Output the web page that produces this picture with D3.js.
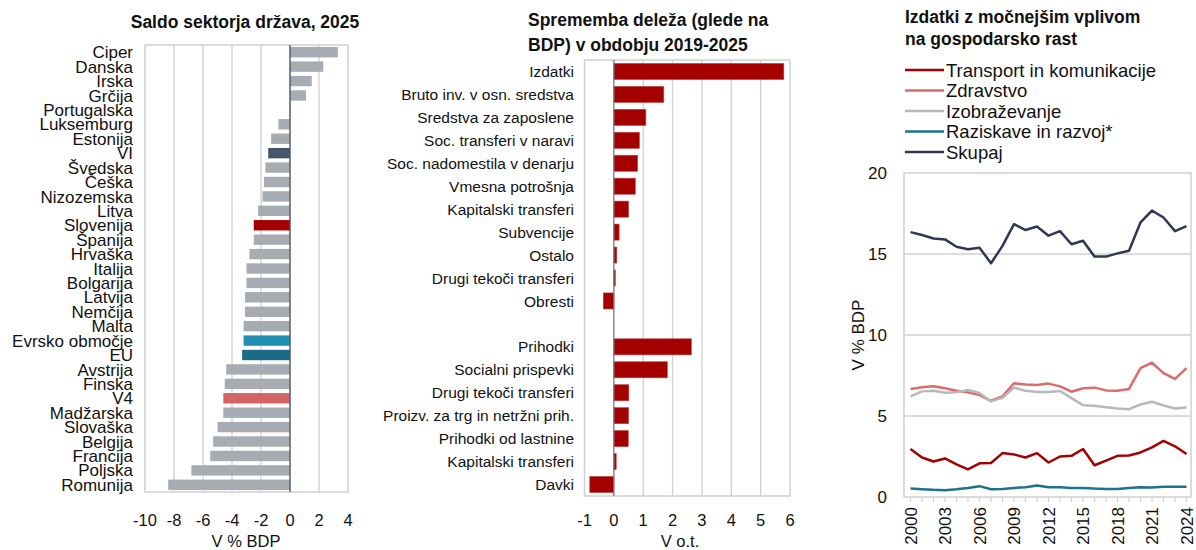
<!DOCTYPE html>
<html>
<head>
<meta charset="utf-8">
<script src="https://cdn.jsdelivr.net/npm/d3@7"></script>
<style>
  body { margin: 0; background: #fff; }
  svg { font-family: "Liberation Sans", Arial, sans-serif; }
  .title { font-weight: bold; font-size: 17.5px; fill: #111; }
</style>
</head>
<body>
<svg id="svg" width="1196" height="550"></svg>
<script>
// ---- //
// Data //
// ---- //

// left: general government balance 2025
const countries = ["Ciper", "Danska", "Irska", "Grčija", "Portugalska", "Luksemburg", "Estonija", "VI",
  "Švedska", "Češka", "Nizozemska", "Litva", "Slovenija", "Španija", "Hrvaška", "Italija", "Bolgarija",
  "Latvija", "Nemčija", "Malta", "Evrsko območje", "EU", "Avstrija", "Finska", "V4", "Madžarska",
  "Slovaška", "Belgija", "Francija", "Poljska", "Romunija"];
const balance = [3.3, 2.3, 1.5, 1.1, 0.0, -0.8, -1.3, -1.5, -1.7, -1.8, -1.9, -2.2, -2.5, -2.5, -2.8,
  -3.0, -3.0, -3.1, -3.1, -3.2, -3.2, -3.3, -4.4, -4.5, -4.6, -4.6, -5.0, -5.3, -5.5, -6.8, -8.4];
const highlight = { "VI": "#44546a", "Slovenija": "#a50000", "Evrsko območje": "#1f8fb3",
  "EU": "#1b6a88", "V4": "#d46464" };
const balanceTicks = [-10, -8, -6, -4, -2, 0, 2, 4];

// middle: change in share of GDP 2019-2025
const items = ["Izdatki", "Bruto inv. v osn. sredstva", "Sredstva za zaposlene", "Soc. transferi v naravi",
  "Soc. nadomestila v denarju", "Vmesna potrošnja", "Kapitalski transferi", "Subvencije", "Ostalo",
  "Drugi tekoči transferi", "Obresti", "", "Prihodki", "Socialni prispevki", "Drugi tekoči transferi",
  "Proizv. za trg in netržni prih.", "Prihodki od lastnine", "Kapitalski transferi", "Davki"];
const change = [5.79, 1.70, 1.09, 0.87, 0.81, 0.73, 0.50, 0.18, 0.10, 0.05, -0.36, null,
  2.64, 1.82, 0.51, 0.50, 0.49, 0.08, -0.82];
const changeTicks = [-1, 0, 1, 2, 3, 4, 5, 6];

// right: growth-enhancing expenditure
const years = d3.range(2000, 2025);
const transport = [2.96, 2.44, 2.19, 2.38, 2.02, 1.71, 2.08, 2.10, 2.71, 2.63, 2.44, 2.71, 2.13, 2.50,
  2.54, 2.96, 1.96, 2.25, 2.54, 2.56, 2.75, 3.06, 3.46, 3.13, 2.65];
const zdravstvo = [6.67, 6.77, 6.83, 6.71, 6.56, 6.46, 6.29, 5.94, 6.21, 7.02, 6.94, 6.92, 7.00, 6.83,
  6.50, 6.71, 6.75, 6.58, 6.56, 6.67, 7.96, 8.29, 7.65, 7.29, 7.96];
const izobrazevanje = [6.21, 6.52, 6.56, 6.44, 6.46, 6.60, 6.42, 5.90, 6.13, 6.75, 6.56, 6.48, 6.48, 6.54,
  6.10, 5.67, 5.63, 5.54, 5.46, 5.42, 5.71, 5.88, 5.65, 5.46, 5.52];
const razvoj = [0.52, 0.48, 0.44, 0.42, 0.48, 0.56, 0.67, 0.48, 0.50, 0.56, 0.60, 0.71, 0.60, 0.60,
  0.56, 0.56, 0.52, 0.50, 0.50, 0.56, 0.60, 0.58, 0.63, 0.63, 0.63];
const skupaj = [16.35, 16.17, 15.96, 15.90, 15.45, 15.29, 15.39, 14.43, 15.50, 16.84, 16.48, 16.70, 16.13,
  16.41, 15.60, 15.82, 14.84, 14.84, 15.04, 15.20, 16.95, 17.68, 17.25, 16.41, 16.72];
const seriesNames = ["Transport in komunikacije", "Zdravstvo", "Izobraževanje", "Raziskave in razvoj*", "Skupaj"];
const seriesValues = [transport, zdravstvo, izobrazevanje, razvoj, skupaj];
const seriesColors = ["#a50000", "#dc6b6b", "#b5b9be", "#1c7390", "#2e3853"];
const yearTicks = [2000, 2003, 2006, 2009, 2012, 2015, 2018, 2021, 2024];
const levelTicks = [0, 5, 10, 15, 20];

const svg = d3.select("#svg");
const gridColor = "#d0d0d0";

// --------------------------- //
// Left chart: horizontal bars //
// --------------------------- //
{
  const x = d3.scaleLinear().domain([-10, 4]).range([145, 348]);
  const y = d3.scaleBand().domain(countries).range([45, 492]).paddingInner(0.28).paddingOuter(0.14);
  const g = svg.append("g");

  g.append("text").attr("class", "title").attr("x", 245).attr("y", 28)
    .attr("text-anchor", "middle").text("Saldo sektorja država, 2025");

  g.selectAll("line.grid").data(balanceTicks.slice(1, -1)).join("line")
    .attr("x1", d => x(d)).attr("x2", d => x(d)).attr("y1", 45).attr("y2", 492)
    .attr("stroke", gridColor).attr("stroke-width", 1.3);
  g.append("rect").attr("x", 145).attr("y", 45).attr("width", 203).attr("height", 447)
    .attr("fill", "none").attr("stroke", gridColor).attr("stroke-width", 1.5);

  g.selectAll("rect.bar").data(countries).join("rect")
    .attr("x", (d, i) => x(Math.min(0, balance[i])))
    .attr("width", (d, i) => Math.abs(x(balance[i]) - x(0)))
    .attr("y", d => y(d)).attr("height", y.bandwidth())
    .attr("fill", d => highlight[d] || "#a7acb2");

  g.append("line").attr("x1", x(0)).attr("x2", x(0)).attr("y1", 45).attr("y2", 492)
    .attr("stroke", "#4a5566").attr("stroke-width", 1.3);

  g.selectAll("text.cat").data(countries).join("text")
    .attr("x", 133).attr("y", d => y(d) + y.bandwidth() / 2).attr("dy", "0.36em")
    .attr("text-anchor", "end").attr("font-size", 17).attr("fill", "#111").text(d => d);

  g.selectAll("text.tick").data(balanceTicks).join("text")
    .attr("x", d => x(d)).attr("y", 526).attr("text-anchor", "middle")
    .attr("font-size", 16.5).attr("fill", "#111").text(d => d);
  g.append("text").attr("x", 246).attr("y", 547).attr("text-anchor", "middle")
    .attr("font-size", 16.5).attr("fill", "#111").text("V % BDP");
}

// ----------------------------- //
// Middle chart: horizontal bars //
// ----------------------------- //
{
  const x = d3.scaleLinear().domain([-1, 6]).range([584.5, 790]);
  const keys = items.map((d, i) => i);
  const y = d3.scaleBand().domain(keys).range([60, 496]).paddingInner(0.3).paddingOuter(0.15);
  const g = svg.append("g");

  g.append("text").attr("class", "title").attr("x", 528).attr("y", 26).text("Sprememba deleža (glede na");
  g.append("text").attr("class", "title").attr("x", 528).attr("y", 51).text("BDP) v obdobju 2019-2025");

  g.selectAll("line.grid").data(changeTicks.slice(2, -1)).join("line")
    .attr("x1", d => x(d)).attr("x2", d => x(d)).attr("y1", 60).attr("y2", 496)
    .attr("stroke", gridColor).attr("stroke-width", 1.3);
  g.append("rect").attr("x", x(-1)).attr("y", 60).attr("width", x(6) - x(-1)).attr("height", 436)
    .attr("fill", "none").attr("stroke", gridColor).attr("stroke-width", 1.5);

  g.selectAll("rect.bar").data(keys.filter(i => change[i] !== null)).join("rect")
    .attr("x", i => x(Math.min(0, change[i])))
    .attr("width", i => Math.abs(x(change[i]) - x(0)))
    .attr("y", i => y(i)).attr("height", y.bandwidth())
    .attr("fill", "#a50000").attr("stroke", "#c04040").attr("stroke-width", 0.6);

  g.append("line").attr("x1", x(0)).attr("x2", x(0)).attr("y1", 60).attr("y2", 496)
    .attr("stroke", "#777").attr("stroke-width", 1.3);

  g.selectAll("text.cat").data(keys).join("text")
    .attr("x", 574).attr("y", i => y(i) + y.bandwidth() / 2).attr("dy", "0.36em")
    .attr("text-anchor", "end").attr("font-size", 15.5).attr("fill", "#111").text(i => items[i]);

  g.selectAll("text.tick").data(changeTicks).join("text")
    .attr("x", d => x(d)).attr("y", 526).attr("text-anchor", "middle")
    .attr("font-size", 16.5).attr("fill", "#111").text(d => d);
  g.append("text").attr("x", 680).attr("y", 547).attr("text-anchor", "middle")
    .attr("font-size", 16.5).attr("fill", "#111").text("V o.t.");
}

// ------------------ //
// Right chart: lines //
// ------------------ //
{
  const x = d3.scaleLinear().domain([2000, 2024]).range([910.5, 1186.5]);
  const y = d3.scaleLinear().domain([0, 20]).range([497, 173]);
  const g = svg.append("g");

  g.append("text").attr("class", "title").attr("x", 905).attr("y", 23).text("Izdatki z močnejšim vplivom");
  g.append("text").attr("class", "title").attr("x", 905).attr("y", 45).text("na gospodarsko rast");

  // legend
  seriesNames.forEach((name, i) => {
    const ly = 70 + i * 20.5;
    g.append("line").attr("x1", 905).attr("x2", 944).attr("y1", ly).attr("y2", ly)
      .attr("stroke", seriesColors[i]).attr("stroke-width", 2.5);
    g.append("text").attr("x", 946).attr("y", ly).attr("dy", "0.36em")
      .attr("font-size", 18.5).attr("fill", "#111").text(name);
  });

  g.selectAll("line.grid").data(levelTicks.slice(1, -1)).join("line")
    .attr("x1", 904).attr("x2", 1191).attr("y1", d => y(d)).attr("y2", d => y(d))
    .attr("stroke", gridColor).attr("stroke-width", 1.3);
  g.append("rect").attr("x", 904).attr("y", y(20)).attr("width", 287).attr("height", y(0) - y(20))
    .attr("fill", "none").attr("stroke", gridColor).attr("stroke-width", 1.5);

  // minor year ticks below axis
  g.selectAll("line.yt").data(years).join("line")
    .attr("x1", d => x(d)).attr("x2", d => x(d)).attr("y1", y(0)).attr("y2", y(0) + 5)
    .attr("stroke", gridColor).attr("stroke-width", 1.2);

  const line = d3.line().x((d, i) => x(years[i])).y(d => y(d));
  g.selectAll("path.series").data(seriesValues).join("path")
    .attr("d", d => line(d)).attr("fill", "none")
    .attr("stroke", (d, i) => seriesColors[i]).attr("stroke-width", 2.5)
    .attr("stroke-linejoin", "round");

  g.selectAll("text.ytick").data(levelTicks).join("text")
    .attr("x", 887).attr("y", d => y(d)).attr("dy", "0.36em").attr("text-anchor", "end")
    .attr("font-size", 17).attr("fill", "#111").text(d => d);

  g.append("text").attr("transform", `translate(864, ${y(10)}) rotate(-90)`)
    .attr("text-anchor", "middle").attr("font-size", 17).attr("fill", "#111").text("V % BDP");

  g.selectAll("text.xtick").data(yearTicks).join("text")
    .attr("transform", d => `translate(${x(d)}, 507) rotate(-90)`)
    .attr("dy", "0.36em").attr("text-anchor", "end")
    .attr("font-size", 17).attr("fill", "#111").text(d => d);
}
</script>
</body>
</html>
